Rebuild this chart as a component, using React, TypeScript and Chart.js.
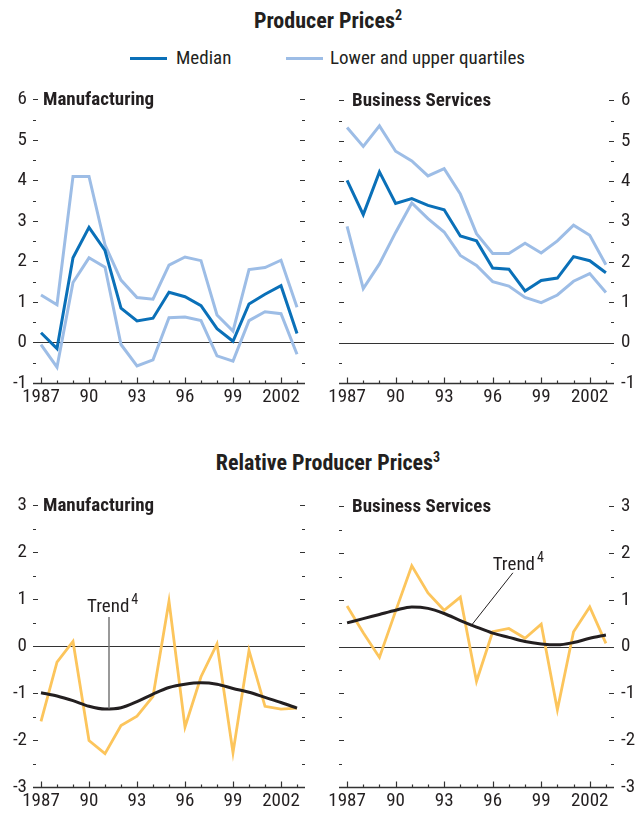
import React, { useEffect, useRef } from "react";
import { Chart, registerables } from "chart.js";

Chart.register(...registerables);

const years = [1987, 1988, 1989, 1990, 1991, 1992, 1993, 1994, 1995, 1996, 1997, 1998, 1999, 2000, 2001, 2002, 2003];
const xTickYears = [1987, 1990, 1993, 1996, 1999, 2002];
const xTickLabels = ["1987", "90", "93", "96", "99", "2002"];
const topYTicks = [-1, 0, 1, 2, 3, 4, 5, 6];
const bottomYTicks = [-3, -2, -1, 0, 1, 2, 3];

// Producer prices — Manufacturing
const mfgMedian = [0.24, -0.15, 2.09, 2.84, 2.27, 0.85, 0.53, 0.6, 1.24, 1.13, 0.91, 0.34, 0.03, 0.95, 1.19, 1.4, 0.22];
const mfgUpper = [1.17, 0.93, 4.1, 4.1, 2.41, 1.54, 1.11, 1.07, 1.91, 2.11, 2.02, 0.68, 0.28, 1.8, 1.85, 2.03, 0.87];
const mfgLower = [-0.05, -0.61, 1.48, 2.09, 1.86, -0.05, -0.58, -0.43, 0.61, 0.63, 0.54, -0.33, -0.46, 0.54, 0.76, 0.71, -0.29];

// Producer prices — Business services
const bsMedian = [4.02, 3.17, 4.23, 3.45, 3.57, 3.4, 3.29, 2.64, 2.52, 1.85, 1.82, 1.28, 1.54, 1.6, 2.13, 2.03, 1.73];
const bsUpper = [5.33, 4.86, 5.37, 4.74, 4.5, 4.13, 4.31, 3.68, 2.7, 2.21, 2.21, 2.46, 2.22, 2.52, 2.91, 2.66, 1.93];
const bsLower = [2.88, 1.34, 1.95, 2.73, 3.46, 3.07, 2.74, 2.16, 1.91, 1.51, 1.4, 1.12, 0.99, 1.18, 1.52, 1.71, 1.24];

// Relative producer prices
const relMfg = [-1.6, -0.34, 0.1, -2.01, -2.29, -1.69, -1.49, -1.07, 0.96, -1.72, -0.65, 0.05, -2.27, -0.09, -1.28, -1.34, -1.32];
const relMfgTrend = [-0.99, -1.06, -1.16, -1.28, -1.34, -1.31, -1.18, -1.02, -0.88, -0.81, -0.78, -0.81, -0.9, -0.98, -1.09, -1.2, -1.32];
const relBs = [0.87, 0.3, -0.23, 0.76, 1.73, 1.15, 0.78, 1.06, -0.74, 0.32, 0.39, 0.18, 0.48, -1.35, 0.32, 0.85, 0.07];
const relBsTrend = [0.51, 0.6, 0.69, 0.78, 0.85, 0.82, 0.71, 0.56, 0.42, 0.29, 0.2, 0.11, 0.06, 0.04, 0.09, 0.18, 0.25];

const FONT = "'Roboto Condensed', 'DejaVu Sans Condensed', sans-serif";
const TEXT = "#231f20";
const MEDIAN = "#0a70b8";
const QUART = "#9dbde6";
const ORANGE = "#fcc55c";
const TREND = "#231f20";

type Ann = { x1: number; y1: number; x2: number; y2: number; lx: number; ly: number; color: string; width: number };

type PanelCfg = {
  left: number;
  top: number;
  w: number;
  h: number;
  side: "left" | "right";
  yAxisW: number;
  padSide: number;
  padTop: number;
  xAxisH: number;
  yTicks: number[];
  title: string;
  titleOff: number;
  datasets: any[];
  ann?: Ann;
};

const toXY = (vals: number[]) => vals.map((v, i) => ({ x: years[i], y: v }));

const ds = (vals: number[], color: string, width: number, smooth = false) => ({
  data: toXY(vals),
  borderColor: color,
  borderWidth: width,
  pointRadius: 0,
  fill: false,
  tension: smooth ? 0.4 : 0,
  cubicInterpolationMode: smooth ? "monotone" : "default",
  borderJoinStyle: "miter",
});

function makeDecor(p: PanelCfg) {
  return {
    id: "decor",
    beforeDatasetsDraw(chart: any) {
      const { ctx, chartArea: a, scales } = chart;
      const x = scales.x;
      const y = scales.y;
      const yMin = p.yTicks[0];
      const yMax = p.yTicks[p.yTicks.length - 1];
      ctx.save();
      ctx.strokeStyle = "#333";
      ctx.lineWidth = 1;
      // zero line
      const y0 = Math.round(y.getPixelForValue(0)) + 0.5;
      ctx.beginPath();
      ctx.moveTo(a.left, y0);
      ctx.lineTo(a.right, y0);
      ctx.stroke();
      // y ticks (inward, both sides)
      ctx.lineWidth = 1.2;
      for (let v = yMin + 0.5; v <= yMax + 0.001; v += 0.5) {
        const py = Math.round(y.getPixelForValue(v)) + 0.5;
        const len = Math.abs(v - Math.round(v)) < 0.01 ? 5 : 3;
        ctx.beginPath();
        ctx.moveTo(a.left, py);
        ctx.lineTo(a.left + len, py);
        ctx.moveTo(a.right - len, py);
        ctx.lineTo(a.right, py);
        ctx.stroke();
      }
      // x axis line
      const yb = Math.round(a.bottom) + 0.5;
      ctx.lineWidth = 1.3;
      ctx.beginPath();
      ctx.moveTo(a.left, yb);
      ctx.lineTo(a.right, yb);
      ctx.stroke();
      // x ticks (upward)
      ctx.lineWidth = 1.2;
      years.forEach((yr) => {
        const px = Math.round(x.getPixelForValue(yr)) + 0.5;
        const len = xTickYears.includes(yr) ? 6 : 3;
        ctx.beginPath();
        ctx.moveTo(px, yb);
        ctx.lineTo(px, yb - len);
        ctx.stroke();
      });
      ctx.restore();
    },
    afterDatasetsDraw(chart: any) {
      const { ctx, chartArea: a, scales } = chart;
      const x = scales.x;
      const y = scales.y;
      const yMax = p.yTicks[p.yTicks.length - 1];
      ctx.save();
      ctx.fillStyle = TEXT;
      ctx.font = `bold 19px ${FONT}`;
      ctx.textBaseline = "middle";
      ctx.textAlign = "left";
      ctx.fillText(p.title, a.left + p.titleOff, y.getPixelForValue(yMax) + 1);
      if (p.ann) {
        const n = p.ann;
        ctx.strokeStyle = n.color;
        ctx.lineWidth = n.width;
        ctx.beginPath();
        ctx.moveTo(x.getPixelForValue(n.x1), y.getPixelForValue(n.y1));
        ctx.lineTo(x.getPixelForValue(n.x2), y.getPixelForValue(n.y2));
        ctx.stroke();
        ctx.font = `19px ${FONT}`;
        ctx.textBaseline = "alphabetic";
        const lx = x.getPixelForValue(n.lx);
        const ly = y.getPixelForValue(n.ly);
        ctx.fillText("Trend", lx, ly);
        const tw = ctx.measureText("Trend").width;
        ctx.font = `14px ${FONT}`;
        ctx.fillText("4", lx + tw + 2, ly - 8);
      }
      ctx.restore();
    },
  };
}

function Panel({ p }: { p: PanelCfg }) {
  const ref = useRef<HTMLCanvasElement>(null);
  useEffect(() => {
    if (!ref.current) return;
    const pad =
      p.side === "left"
        ? { top: p.padTop, right: p.padSide, left: 0, bottom: 0 }
        : { top: p.padTop, left: p.padSide, right: 0, bottom: 0 };
    const chart = new Chart(ref.current, {
      type: "line",
      data: { datasets: p.datasets },
      options: {
        responsive: false,
        animation: false,
        devicePixelRatio: 1,
        layout: { padding: pad },
        plugins: { legend: { display: false }, tooltip: { enabled: false }, title: { display: false } },
        scales: {
          x: {
            type: "linear",
            min: 1986.5,
            max: 2003.5,
            grid: { display: false, drawTicks: false },
            border: { display: false },
            afterBuildTicks: (axis: any) => {
              axis.ticks = years.map((v) => ({ value: v }));
            },
            afterFit: (axis: any) => {
              axis.height = p.xAxisH;
            },
            ticks: {
              autoSkip: false,
              maxRotation: 0,
              minRotation: 0,
              padding: 3,
              color: TEXT,
              font: { family: FONT, size: 19 },
              callback: (v: any) => {
                const i = xTickYears.indexOf(Number(v));
                return i >= 0 ? xTickLabels[i] : "";
              },
            },
          },
          y: {
            type: "linear",
            position: p.side,
            min: p.yTicks[0],
            max: p.yTicks[p.yTicks.length - 1],
            grid: { display: false, drawTicks: false },
            border: { display: false },
            afterBuildTicks: (axis: any) => {
              axis.ticks = p.yTicks.map((v) => ({ value: v }));
            },
            afterFit: (axis: any) => {
              axis.width = p.yAxisW;
            },
            ticks: {
              padding: p.side === "left" ? 6 : 7,
              color: TEXT,
              font: { family: FONT, size: 19 },
              callback: (v: any) => String(v),
            },
          },
        },
      } as any,
      plugins: [makeDecor(p)],
    });
    return () => chart.destroy();
  }, []);
  return (
    <canvas
      ref={ref}
      width={p.w}
      height={p.h}
      style={{ position: "absolute", left: p.left, top: p.top, width: p.w, height: p.h }}
    />
  );
}

const panels: PanelCfg[] = [
  {
    left: 0, top: 82, w: 316, h: 333, side: "left", yAxisW: 33, padSide: 11, padTop: 14, xAxisH: 32,
    yTicks: topYTicks, title: "Manufacturing", titleOff: 10,
    datasets: [ds(mfgMedian, MEDIAN, 3), ds(mfgUpper, QUART, 3), ds(mfgLower, QUART, 3)],
  },
  {
    left: 318, top: 82, w: 318, h: 333, side: "right", yAxisW: 22, padSide: 21, padTop: 14, xAxisH: 32,
    yTicks: topYTicks, title: "Business Services", titleOff: 13,
    datasets: [ds(bsMedian, MEDIAN, 3), ds(bsUpper, QUART, 3), ds(bsLower, QUART, 3)],
  },
  {
    left: 0, top: 488, w: 316, h: 325, side: "left", yAxisW: 33, padSide: 11, padTop: 14, xAxisH: 26,
    yTicks: bottomYTicks, title: "Manufacturing", titleOff: 10,
    datasets: [ds(relMfgTrend, TREND, 3, true), ds(relMfg, ORANGE, 2.8)],
    ann: { x1: 1991.25, y1: 0.62, x2: 1991.25, y2: -1.33, lx: 1989.875, ly: 0.72, color: "#777", width: 1.5 },
  },
  {
    left: 318, top: 488, w: 318, h: 325, side: "right", yAxisW: 22, padSide: 21, padTop: 14, xAxisH: 26,
    yTicks: bottomYTicks, title: "Business Services", titleOff: 13,
    datasets: [ds(relBsTrend, TREND, 3, true), ds(relBs, ORANGE, 2.8)],
    ann: { x1: 1997.25, y1: 1.58, x2: 1994.65, y2: 0.44, lx: 1996.0, ly: 1.64, color: TREND, width: 1 },
  },
];

const textBase: React.CSSProperties = { position: "absolute", fontFamily: FONT, color: TEXT, whiteSpace: "nowrap" };

export default function App() {
  return (
    <div style={{ position: "absolute", left: 0, top: 0, width: 636, height: 813, background: "#fff", overflow: "hidden" }}>
      <div style={{ ...textBase, left: 10, top: 6, width: 636, textAlign: "center", fontSize: 22, fontWeight: "bold", lineHeight: "30px" }}>
        Producer Prices<span style={{ fontSize: 14, position: "relative", top: -8 }}>2</span>
      </div>
      <div style={{ position: "absolute", left: 130, top: 57, width: 37, height: 3, background: MEDIAN }} />
      <div style={{ ...textBase, left: 176, top: 47, fontSize: 19, lineHeight: "22px" }}>Median</div>
      <div style={{ position: "absolute", left: 286, top: 57, width: 37, height: 3, background: QUART }} />
      <div style={{ ...textBase, left: 330, top: 47, fontSize: 19, lineHeight: "22px" }}>Lower and upper quartiles</div>
      <div style={{ ...textBase, left: 10, top: 448, width: 636, textAlign: "center", fontSize: 22, fontWeight: "bold", lineHeight: "30px" }}>
        Relative Producer Prices<span style={{ fontSize: 14, position: "relative", top: -8 }}>3</span>
      </div>
      {panels.map((p, i) => (
        <Panel key={i} p={p} />
      ))}
    </div>
  );
}
